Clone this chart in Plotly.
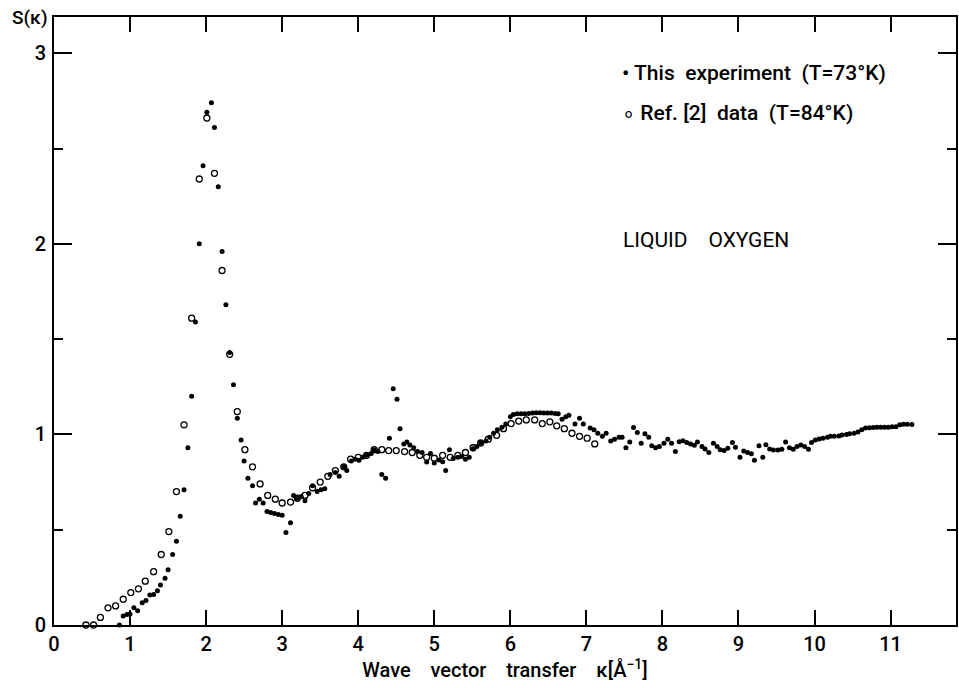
import plotly.graph_objects as go

# Ref. [2] data (T=84 K) - open circles
ref_x = [0.42, 0.52, 0.61, 0.71, 0.81, 0.91, 1.01, 1.11, 1.20, 1.31,
         1.41, 1.51, 1.61, 1.71, 1.81, 1.91, 2.01, 2.11, 2.21, 2.31,
         2.41, 2.51, 2.61, 2.71, 2.81, 2.91, 3.00, 3.11, 3.20, 3.30,
         3.40, 3.50, 3.60, 3.70, 3.81, 3.90, 4.00, 4.11, 4.21, 4.31,
         4.40, 4.50, 4.61, 4.71, 4.81, 4.90, 5.00, 5.11, 5.21, 5.31,
         5.41, 5.51, 5.61, 5.71, 5.82, 5.91, 6.01, 6.11, 6.21, 6.32,
         6.42, 6.52, 6.61, 6.71, 6.81, 6.91, 7.01, 7.11]
ref_y = [0.0, 0.0, 0.04, 0.09, 0.10, 0.135, 0.17, 0.19, 0.23, 0.28,
         0.37, 0.49, 0.70, 1.05, 1.61, 2.34, 2.66, 2.37, 1.86, 1.42,
         1.12, 0.92, 0.83, 0.74, 0.68, 0.66, 0.64, 0.645, 0.665, 0.68,
         0.72, 0.75, 0.78, 0.81, 0.83, 0.87, 0.88, 0.89, 0.92, 0.92,
         0.915, 0.915, 0.91, 0.905, 0.89, 0.88, 0.875, 0.89, 0.88, 0.89,
         0.905, 0.93, 0.955, 0.975, 0.995, 1.03, 1.057, 1.07, 1.076, 1.076,
         1.057, 1.066, 1.045, 1.03, 1.006, 0.99, 0.98, 0.95]

# This experiment (T=73 K) - filled dots
exp_x = [0.86, 0.91, 0.96, 1.00, 1.05, 1.10, 1.16, 1.21, 1.26, 1.31,
         1.36, 1.40, 1.46, 1.50, 1.56, 1.61, 1.66, 1.71, 1.76, 1.81,
         1.86, 1.91, 1.96, 2.01, 2.07, 2.11, 2.16, 2.21, 2.26, 2.31,
         2.36, 2.41, 2.46, 2.50, 2.55, 2.61, 2.65, 2.70, 2.75, 2.80,
         2.85, 2.90, 2.95, 3.00, 3.05, 3.11, 3.15, 3.20, 3.25, 3.30,
         3.35, 3.40, 3.46, 3.51, 3.56, 3.63, 3.70, 3.75, 3.81, 3.85,
         3.91, 3.96, 4.01, 4.06, 4.11, 4.17, 4.21, 4.26, 4.31, 4.36,
         4.41, 4.46, 4.51, 4.55, 4.60, 4.64, 4.68, 4.73, 4.78, 4.84,
         4.90, 4.95, 5.00, 5.06, 5.11, 5.15, 5.20, 5.25, 5.31, 5.36,
         5.41, 5.46, 5.51, 5.56, 5.61, 5.68, 5.73, 5.78, 5.83, 5.89,
         5.94, 6.00, 6.04, 6.09, 6.14, 6.19, 6.24, 6.29, 6.34, 6.39,
         6.44, 6.49, 6.54, 6.59, 6.63, 6.68, 6.73, 6.77, 6.85, 6.91,
         6.96, 7.05, 7.10, 7.15, 7.21, 7.26, 7.32, 7.37, 7.43, 7.47,
         7.52, 7.57, 7.62, 7.67, 7.72, 7.77, 7.82, 7.86, 7.91, 7.96,
         8.02, 8.07, 8.12, 8.17, 8.22, 8.27, 8.32, 8.37, 8.42, 8.46,
         8.52, 8.56, 8.61, 8.67, 8.72, 8.76, 8.81, 8.86, 8.92, 8.96,
         9.02, 9.07, 9.12, 9.17, 9.21, 9.27, 9.32, 9.36, 9.41, 9.46,
         9.52, 9.57, 9.62, 9.67, 9.72, 9.77, 9.82, 9.87, 9.92, 9.96,
         10.01, 10.06, 10.11, 10.17, 10.21, 10.26, 10.32, 10.36, 10.42, 10.46,
         10.52, 10.57, 10.62, 10.67, 10.72, 10.77, 10.82, 10.87, 10.92, 10.97,
         11.02, 11.07, 11.12, 11.17, 11.22, 11.28]
exp_y = [0.0, 0.047, 0.055, 0.058, 0.09, 0.075, 0.117, 0.128, 0.157, 0.16,
         0.18, 0.21, 0.245, 0.29, 0.37, 0.44, 0.57, 0.71, 0.93, 1.20,
         1.59, 2.00, 2.41, 2.69, 2.74, 2.61, 2.30, 1.96, 1.68, 1.43,
         1.26, 1.085, 0.97, 0.86, 0.77, 0.73, 0.64, 0.66, 0.64, 0.595,
         0.59, 0.585, 0.58, 0.576, 0.485, 0.537, 0.68, 0.665, 0.674, 0.652,
         0.69, 0.73, 0.70, 0.71, 0.715, 0.79, 0.80, 0.78, 0.83, 0.81,
         0.86, 0.87, 0.865, 0.88, 0.89, 0.90, 0.92, 0.91, 0.79, 0.77,
         0.98, 1.24, 1.185, 1.03, 0.95, 0.96, 0.945, 0.93, 0.91, 0.905,
         0.855, 0.90, 0.85, 0.866, 0.857, 0.81, 0.92, 0.873, 0.88, 0.884,
         0.87, 0.88, 0.925, 0.936, 0.955, 0.966, 0.985, 1.006, 1.024, 1.038,
         1.054, 1.093, 1.105, 1.108, 1.108, 1.108, 1.11, 1.112, 1.113, 1.113,
         1.112, 1.112, 1.112, 1.11, 1.108, 1.08, 1.093, 1.10, 1.055, 1.085,
         1.055, 1.033, 1.024, 1.006, 0.99, 1.006, 0.965, 0.975, 0.985, 0.985,
         0.93, 0.96, 1.036, 1.01, 0.954, 1.003, 0.985, 0.94, 0.93, 0.936,
         0.954, 0.975, 0.954, 0.91, 0.962, 0.967, 0.957, 0.95, 0.943, 0.96,
         0.936, 0.924, 0.905, 0.954, 0.936, 0.92, 0.915, 0.928, 0.957, 0.933,
         0.88, 0.913, 0.905, 0.898, 0.864, 0.94, 0.88, 0.946, 0.924, 0.918,
         0.918, 0.922, 0.96, 0.93, 0.922, 0.936, 0.945, 0.936, 0.922, 0.957,
         0.97, 0.976, 0.98, 0.985, 0.99, 0.99, 0.992, 0.997, 1.0, 1.003,
         1.006, 1.013, 1.024, 1.033, 1.035, 1.036, 1.037, 1.037, 1.038, 1.038,
         1.04, 1.04, 1.05, 1.053, 1.053, 1.052]

x_ticks = [0, 1, 2, 3, 4, 5, 6, 7, 8, 9, 10, 11]
y_ticks = [0, 1, 2, 3]

FONT = "Roboto"

fig = go.Figure()
fig.add_trace(go.Scatter(
    x=ref_x, y=ref_y, mode="markers", name="Ref. [2] data (T=84°K)",
    marker=dict(symbol="circle-open", size=6, color="black", line=dict(width=1.3, color="black")),
    cliponaxis=False, showlegend=False))
fig.add_trace(go.Scatter(
    x=exp_x, y=exp_y, mode="markers", name="This experiment (T=73°K)",
    marker=dict(symbol="circle", size=5, color="black"),
    cliponaxis=False, showlegend=False))

fig.update_layout(
    width=959, height=688,
    margin=dict(l=54, r=1, t=17, b=63),
    paper_bgcolor="white", plot_bgcolor="white",
    font=dict(family=FONT, color="black", size=19),
    xaxis=dict(range=[0, 11.86], tickvals=x_ticks, ticktext=[str(v) for v in x_ticks],
               ticks="inside", ticklen=15, tickwidth=2, tickcolor="black",
               showline=True, linewidth=2, linecolor="black", mirror="ticks",
               showgrid=False, zeroline=False,
               tickfont=dict(size=20, family=FONT, weight=500),
               ticklabelstandoff=0,
               title=dict(text="Wave    vector    transfer    κ[Å<sup>−1</sup>]",
                          font=dict(size=20, family=FONT, weight=500), standoff=2)),
    yaxis=dict(range=[0, 3.19], tickvals=y_ticks, ticktext=[str(v) for v in y_ticks],
               ticks="inside", ticklen=18, tickwidth=2, tickcolor="black",
               minor=dict(dtick=0.5, ticks="inside", ticklen=9, tickwidth=1.5, tickcolor="black"),
               showline=True, linewidth=2, linecolor="black", mirror="ticks",
               showgrid=False, zeroline=False,
               tickfont=dict(size=20, family=FONT, weight=500),
               ticklabelstandoff=2),
    annotations=[
        dict(xref="paper", yref="paper", x=-0.049, y=1.0, xanchor="left", yanchor="middle",
             text="S(κ)", showarrow=False, font=dict(size=19, family=FONT, weight=500)),
        dict(xref="paper", yref="paper", x=0.627, y=0.908, xanchor="left", yanchor="middle",
             text="• This  experiment  (T=73°K)", showarrow=False,
             font=dict(size=21, family=FONT, weight=500)),
        dict(xref="paper", yref="paper", x=0.627, y=0.842, xanchor="left", yanchor="middle",
             text="∘ Ref. [2]  data  (T=84°K)", showarrow=False,
             font=dict(size=21, family=FONT, weight=500)),
        dict(xref="paper", yref="paper", x=0.629, y=0.633, xanchor="left", yanchor="middle",
             text="LIQUID    OXYGEN", showarrow=False, font=dict(size=21, family=FONT)),
    ],
)

fig.write_html("out.html")
